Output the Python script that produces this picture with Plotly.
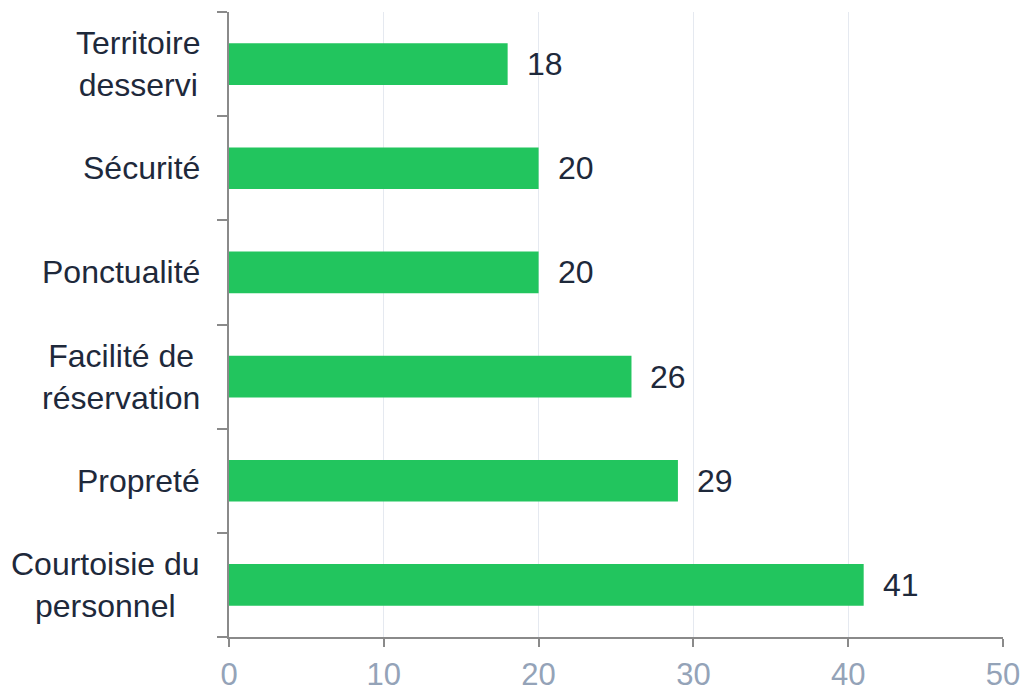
import plotly.graph_objects as go

# Satisfaction criteria (bottom to top) and their counts
categories = [
    "Courtoisie du<br>personnel",
    "Propreté",
    "Facilité de<br>réservation",
    "Ponctualité",
    "Sécurité",
    "Territoire<br>desservi",
]
values = [41, 29, 26, 20, 20, 18]
x_ticks = [0, 10, 20, 30, 40, 50]

BAR = "#22c55e"
TEXT = "#1e293b"
AXIS = "#8a8a8a"
TICK_LABEL = "#94a3b8"
GRID = "#e5e9f0"
FONT = "Liberation Sans, Arial, sans-serif"
SIZE = 32

fig = go.Figure(
    go.Bar(
        x=values,
        y=categories,
        orientation="h",
        marker=dict(color=BAR, line=dict(width=0)),
        width=0.4,
        hoverinfo="x+y",
    )
)

# Value labels to the right of each bar
for cat, val in zip(categories, values):
    fig.add_annotation(
        x=val, y=cat, xref="x", yref="y",
        text=str(val), showarrow=False,
        xanchor="left", yanchor="middle", xshift=17,
        font=dict(family=FONT, size=SIZE, color=TEXT),
    )

# Category labels: right-aligned block, lines centred within it
for cat in categories:
    fig.add_annotation(
        x=0, y=cat, xref="paper", yref="y",
        text=cat, showarrow=False, align="center",
        xanchor="right", yanchor="middle", xshift=-27,
        font=dict(family=FONT, size=SIZE, color=TEXT),
    )

fig.update_layout(
    width=1026,
    height=691,
    margin=dict(l=229, r=23, t=12, b=54, autoexpand=False),
    paper_bgcolor="white",
    plot_bgcolor="white",
    showlegend=False,
    font=dict(family=FONT),
    xaxis=dict(
        range=[0, 50],
        tickvals=x_ticks,
        showgrid=True,
        gridcolor=GRID,
        gridwidth=1,
        zeroline=False,
        showline=True,
        linecolor=AXIS,
        linewidth=2,
        ticks="outside",
        ticklen=8,
        tickwidth=2,
        tickcolor=AXIS,
        ticklabelstandoff=1,
        tickfont=dict(family=FONT, size=31, color=TICK_LABEL),
        automargin=False,
        fixedrange=True,
    ),
    yaxis=dict(
        categoryorder="array",
        categoryarray=categories,
        range=[-0.5, 5.5],
        showgrid=False,
        zeroline=False,
        showline=True,
        linecolor=AXIS,
        linewidth=2,
        ticks="outside",
        tickson="boundaries",
        ticklen=10,
        tickwidth=2,
        tickcolor=AXIS,
        showticklabels=False,
        automargin=False,
        fixedrange=True,
    ),
)

fig.write_html("out.html")
